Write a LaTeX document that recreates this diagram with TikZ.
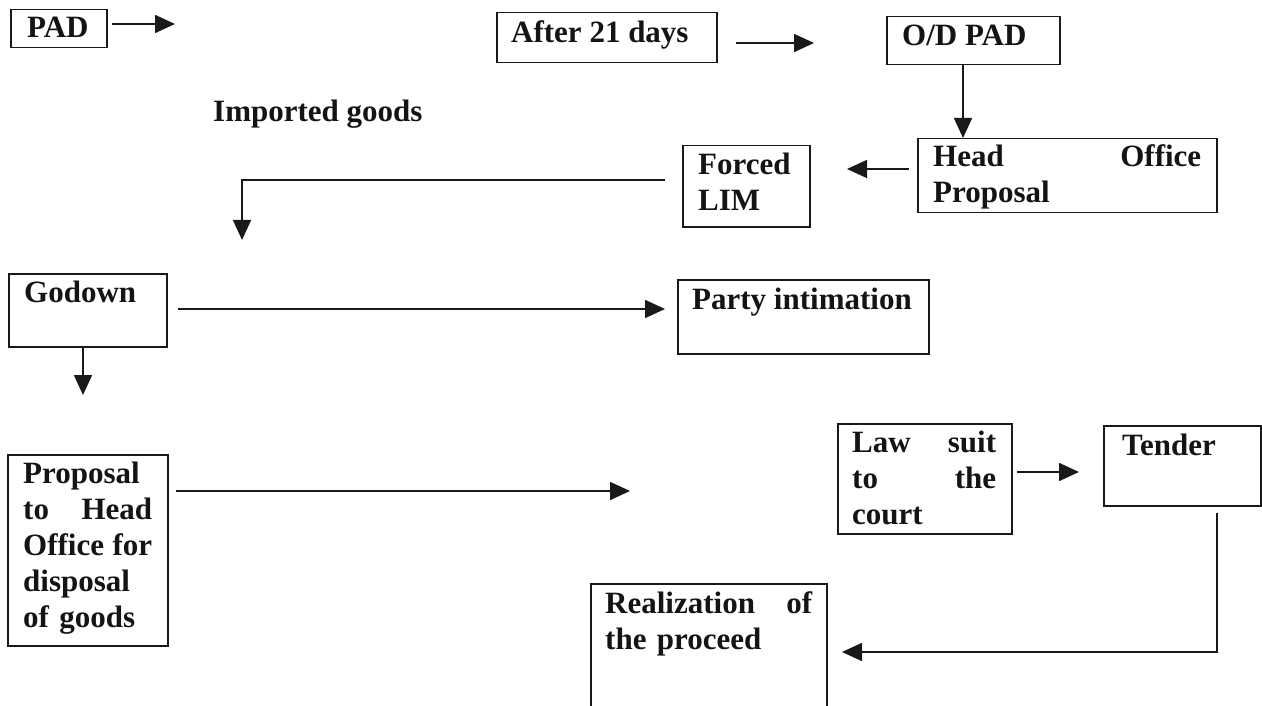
\documentclass[tikz,border=0pt]{standalone}
\usepackage{fontspec}
\setmainfont{Liberation Serif}
\usetikzlibrary{arrows.meta,calc}
\begin{document}
\begin{tikzpicture}[x=1pt,y=-1pt,
  box/.style={draw=black!90, line width=1.5pt, rectangle, inner sep=0pt, anchor=north west},
  txt/.style={inner sep=0pt, anchor=base west, font=\fontsize{31}{36}\selectfont\bfseries, text=black!92, align=left},
  arr/.style={line width=1.6pt, draw=black!90, -{Triangle[length=20pt,width=18pt]}}]
\clip (0,0) rectangle (1262,706);
\fill[white] (0,0) rectangle (1262,706);

% boxes
\node[box, minimum width=96, minimum height=38] (pad) at (10,9) {};
\node[box, minimum width=220, minimum height=50] (after) at (496,12) {};
\node[box, minimum width=173, minimum height=48] (od) at (886,16) {};
\node[box, minimum width=299, minimum height=74] (head) at (917,138) {};
\node[box, minimum width=127, minimum height=81] (forced) at (682,145) {};
\node[box, minimum width=158, minimum height=73] (godown) at (8,273) {};
\node[box, minimum width=251, minimum height=74] (party) at (677,279) {};
\node[box, minimum width=160, minimum height=191] (prop) at (7,454) {};
\node[box, minimum width=174, minimum height=110] (law) at (837,423) {};
\node[box, minimum width=157, minimum height=80] (tender) at (1103,425) {};
\node[box, minimum width=236, minimum height=150] (real) at (590,583) {};

% texts
\node[txt] (padt) at (27,38) {PAD};
\node[txt] (imp) at (213,122) {Imported goods};
\node[txt] (aftert) at (511,43) {After 21 days};
\node[txt] (odt) at (902,46) {O/D PAD};
\node[txt, text width=268] (headt) at (933,167) {Head\hfill Office\\Proposal};
\node[txt, text width=100] (forcedt) at (698,175) {Forced\\LIM};
\node[txt] (godownt) at (24,302) {Godown};
\node[txt] (partyt) at (692,309) {Party intimation};
\node[txt, text width=129] (propt) at (23,483) {Proposal\\to\hfill Head\\Office\hfill for\\disposal\\of goods};
\node[txt, text width=144] (lawt) at (852,452) {Law\hfill suit\\to\hfill the\\court};
\node[txt] (tendert) at (1122,455) {Tender};
\node[txt, text width=207] (realt) at (605,613) {Realization\hfill of\\the proceed};

% connector guide coordinates
\coordinate (padstart) at (112,24);
\coordinate (padend) at (175,24);
\coordinate (afterstart) at (736,43);
\coordinate (afterend) at (814,43);
\coordinate (odx) at (963,0);
\coordinate (headstart) at (909,169);
\coordinate (forcedtip) at (847,169);
\coordinate (forcedstart) at (665,180);
\coordinate (forcedturn) at (242,180);
\coordinate (forcedend) at (242,240);
\coordinate (godownstart) at (178,309);
\coordinate (partytip) at (665,309);
\coordinate (godownx) at (83,0);
\coordinate (godownend) at (83,395);
\coordinate (propstart) at (176,491);
\coordinate (propend) at (630,491);
\coordinate (lawstart) at (1017,472);
\coordinate (tendertip) at (1079,472);
\coordinate (tenderstart) at (1217,513);
\coordinate (tendercorner) at (1217,652);
\coordinate (realtip) at (842,652);

% connectors
\draw[arr] (padstart) -- (padend);
\draw[arr] (afterstart) -- (afterend);
\draw[arr] (od.south -| odx) -- (head.north -| odx);
\draw[arr] (headstart) -- (forcedtip);
\draw[arr] (forcedstart) -- (forcedturn) -- (forcedend);
\draw[arr] (godownstart) -- (partytip);
\draw[arr] (godown.south -| godownx) -- (godownend);
\draw[arr] (propstart) -- (propend);
\draw[arr] (lawstart) -- (tendertip);
\draw[arr] (tenderstart) -- (tendercorner) -- (realtip);
\end{tikzpicture}
\end{document}
